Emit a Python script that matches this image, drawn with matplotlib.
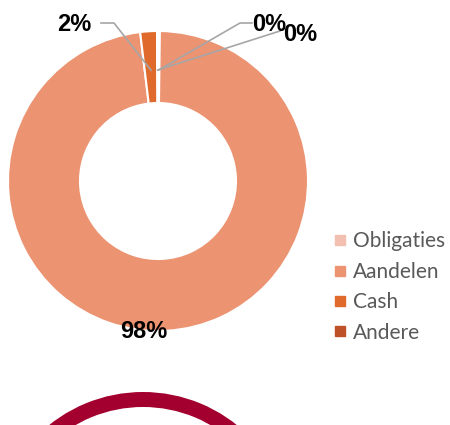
import numpy as np
import matplotlib.pyplot as plt
from matplotlib.lines import Line2D

# Asset allocation donut
categories = ["Obligaties", "Aandelen", "Cash", "Andere"]
values = [0.2, 97.9, 1.8, 0.1]
colors = ["#F3BFB0", "#EC9372", "#E06A2C", "#BE5127"]
ring_color = "#A3002F"

W, H = 450, 425
fig = plt.figure(figsize=(W / 100, H / 100), dpi=100)
ax = fig.add_axes([0, 0, 1, 1])

cx, cy, R = 158, H - 181, 150
wedges, _ = ax.pie(values, colors=colors, startangle=90, counterclock=False,
                   center=(cx, cy), radius=R, frame=True,
                   wedgeprops=dict(width=72, edgecolor="white", linewidth=1.5))

pct = [f"{v:.0f}%" for v in values]
lab_font = dict(fontsize=17, fontweight="bold", family="Liberation Sans", color="black")

def anchor(w, rr=0.74):
    a = np.deg2rad((w.theta1 + w.theta2) / 2)
    return cx + R * rr * np.cos(a), cy + R * rr * np.sin(a)

line_kw = dict(color="#A6A6A6", lw=1.2)
# Cash 2%
x0, y0 = anchor(wedges[2])
ax.plot([101, 114, x0], [H - 23, H - 23, y0], **line_kw)
ax.text(74, H - 24, pct[2], ha="center", va="center", **lab_font)
# Obligaties 0%
x0, y0 = anchor(wedges[0])
ax.plot([252, 240, x0], [H - 23, H - 23, y0], **line_kw)
ax.text(269, H - 24, pct[0], ha="center", va="center", **lab_font)
# Andere 0%
x0, y0 = anchor(wedges[3])
ax.plot([280, x0], [H - 31, y0], **line_kw)
ax.text(300, H - 34, pct[3], ha="center", va="center", **lab_font)
# Aandelen 98%
ax.text(144, H - 331, pct[1], ha="center", va="center", **lab_font)

# top of the next chart, cut off by the frame
ax.pie([1], colors=[ring_color], center=(143, H - 542), radius=150,
       wedgeprops=dict(width=15, edgecolor="none"), frame=True)
ax.set_xlim(0, W)
ax.set_ylim(0, H)
ax.set_aspect("equal")
ax.axis("off")

handles = [Line2D([], [], marker="s", ls="none", color=c, markersize=6.5) for c in colors]
leg = ax.legend(handles, categories, loc="center left",
                bbox_to_anchor=(315 / W, 1 - 287 / H), frameon=False,
                handlelength=0.6, handletextpad=0.3, labelspacing=0.5,
                prop=dict(family="Lato", size=15))
for t in leg.get_texts():
    t.set_color("#595959")

fig.savefig("out.png", dpi=100)
